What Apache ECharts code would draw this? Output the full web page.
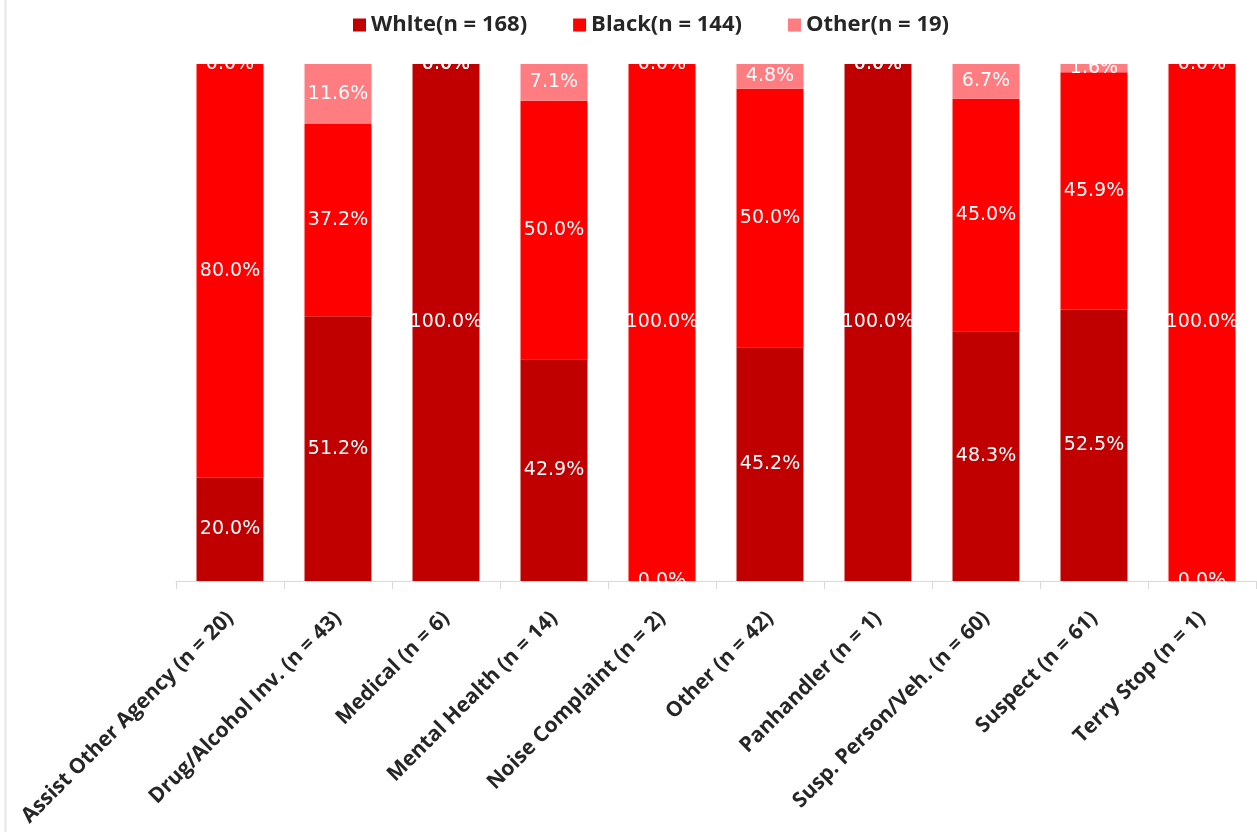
<!DOCTYPE html>
<html>
<head>
<meta charset="utf-8">
<script src="https://cdn.jsdelivr.net/npm/echarts@6/dist/echarts.min.js"></script>
<style>html,body{margin:0;padding:0;background:#fff;}#c{width:1257px;height:832px;}</style>
</head>
<body>
<div id="c"></div>
<script>
var categories = ["Assist Other Agency (n = 20)","Drug/Alcohol Inv. (n = 43)","Medical (n = 6)","Mental Health (n = 14)","Noise Complaint (n = 2)","Other (n = 42)","Panhandler (n = 1)","Susp. Person/Veh. (n = 60)","Suspect (n = 61)","Terry Stop (n = 1)"];
var seriesNames = ["Whlte(n = 168)","Black(n = 144)","Other(n = 19)"];
var whiteValues = [20.0, 51.2, 100.0, 42.9, 0.0, 45.2, 100.0, 48.3, 52.5, 0.0];
var blackValues = [80.0, 37.2, 0.0, 50.0, 100.0, 50.0, 0.0, 45.0, 45.9, 100.0];
var otherValues = [0.0, 11.6, 0.0, 7.1, 0.0, 4.8, 0.0, 6.7, 1.6, 0.0];
var colors = ["#C00000","#FF0000","#FF7C80"];

var chart = echarts.init(document.getElementById('c'));
function mk(name, data, color){
  return {
    name: name, type: 'bar', stack: 'total', data: data, barWidth: 67,
    itemStyle: {color: color},
    label: {show: true, position: 'inside', color: '#fff', fontSize: 19,
      fontFamily: 'DejaVu Sans', textBorderWidth: 0,
      formatter: function(p){ return p.value.toFixed(1) + '%'; }}
  };
}
chart.setOption({
  animation: false,
  graphic: [{type: 'line', shape: {x1: 5.5, y1: 0, x2: 5.5, y2: 832}, style: {stroke: '#e6e6e6', lineWidth: 2}, silent: true}],
  legend: {top: 9, left: 348, itemWidth: 13, itemHeight: 13, itemGap: 46,
    icon: 'rect',
    textStyle: {fontSize: 22, fontWeight: 'bold', color: '#262626', fontFamily: 'Open Sans'},
    data: seriesNames},
  grid: {left: 176, right: 1, top: 64, bottom: 251},
  xAxis: {type: 'category', data: categories,
    axisLine: {lineStyle: {color: '#d9d9d9'}},
    axisTick: {show: true, length: 8, lineStyle: {color: '#d9d9d9'}},
    axisLabel: {rotate: 45, interval: 0, fontSize: 21, fontWeight: 'bold', color: '#262626', fontFamily: 'Open Sans', margin: 34}},
  yAxis: {type: 'value', min: 0, max: 100, show: false, splitLine: {show: false}},
  series: [mk(seriesNames[0], whiteValues, colors[0]), mk(seriesNames[1], blackValues, colors[1]), mk(seriesNames[2], otherValues, colors[2])]
});
</script>
</body>
</html>
